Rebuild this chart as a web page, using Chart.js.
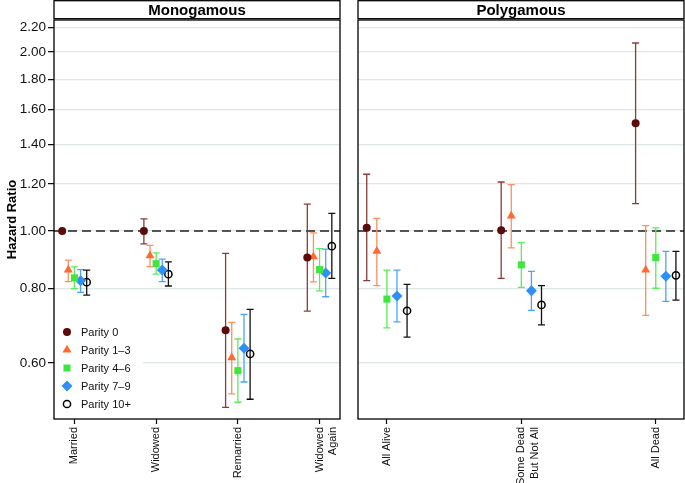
<!DOCTYPE html>
<html>
<head>
<meta charset="utf-8">
<script src="https://cdn.jsdelivr.net/npm/chart.js@4.4.1/dist/chart.umd.min.js"></script>
<style>
    body { margin: 0; background: #fff; }
    #wrap { position: relative; width: 685px; height: 483px; }
    canvas { position: absolute; top: 0; }
    #mono { left: 0; }
    #poly { left: 345px; }
</style>
</head>
<body>
<div id="wrap">
    <canvas id="mono" width="345" height="483"></canvas>
    <canvas id="poly" width="340" height="483"></canvas>
</div>
<script>
// categorias y series
const monoCats = ['Married', 'Widowed', 'Remarried', ['Widowed', 'Again']];
const polyCats = ['All Alive', ['Some Dead', 'But Not All'], 'All Dead'];
const seriesNames = ['Parity 0', 'Parity 1\u20133', 'Parity 4\u20136', 'Parity 7\u20139', 'Parity 10+'];
const yTickValues = [0.6, 0.8, 1.0, 1.2, 1.4, 1.6, 1.8, 2.0, 2.2];

// Monogamous: hazard ratio, limite inferior y superior (una fila por serie)
const monoHR = [
    [1.00, 1.00, 0.681, 0.902],
    [0.860, 0.909, 0.612, 0.905],
    [0.834, 0.881, 0.582, 0.861],
    [0.825, 0.860, 0.635, 0.850],
    [0.820, 0.846, 0.621, 0.943]
];
const monoLow = [
    [null, 0.951, 0.505, 0.733],
    [0.822, 0.871, 0.532, 0.821],
    [0.800, 0.846, 0.515, 0.793],
    [0.788, 0.822, 0.557, 0.775],
    [0.780, 0.808, 0.521, 0.832]
];
const monoHigh = [
    [null, 1.048, 0.917, 1.110],
    [0.893, 0.946, 0.702, 0.993],
    [0.870, 0.919, 0.658, 0.934],
    [0.861, 0.897, 0.724, 0.932],
    [0.859, 0.887, 0.738, 1.071]
];

// Polygamous
const polyHR = [
    [1.013, 1.003, 1.518],
    [0.925, 1.060, 0.860],
    [0.768, 0.877, 0.902],
    [0.777, 0.793, 0.839],
    [0.734, 0.751, 0.842]
];
const polyLow = [
    [0.825, 0.832, 1.112],
    [0.809, 0.937, 0.721],
    [0.687, 0.804, 0.801],
    [0.703, 0.735, 0.761],
    [0.663, 0.695, 0.765]
];
const polyHigh = [
    [1.246, 1.209, 2.072],
    [1.050, 1.197, 1.021],
    [0.859, 0.956, 1.012],
    [0.859, 0.855, 0.924],
    [0.813, 0.809, 0.924]
];

// estilos de cada serie
const dodge = [-0.15, -0.075, 0, 0.075, 0.15];
const markerStyle = ['circle', 'triangle', 'rect', 'rectRot', 'circle'];
const markerSize = [4, 5.2, 5, 5.5, 3.6];
const markerFill = ['#5c0a0a', '#ff6a33', '#3ee63e', '#2f8ff5', 'rgba(0,0,0,0)'];
const markerLine = ['#5c0a0a', '#ff6a33', '#3ee63e', '#2f8ff5', '#000'];
const markerBorder = [0, 0, 0, 0, 1.5];
const barColor = ['#8c3a3a', '#ff8f5e', '#5aee55', '#4aa3ff', '#111'];

Chart.defaults.font.family = '"Liberation Sans", Arial, Helvetica, sans-serif';
Chart.defaults.color = '#000';

function buildSets(hr, low, high) {
    return seriesNames.map((name, s) => ({
        label: name,
        data: hr[s].map((v, i) => ({ x: i + 1 + dodge[s], y: v })),
        errLow: low[s],
        errHigh: high[s],
        barColor: barColor[s],
        pointStyle: markerStyle[s],
        pointRadius: markerSize[s],
        backgroundColor: markerFill[s],
        borderColor: markerLine[s],
        borderWidth: markerBorder[s],
        showLine: false
    }));
}

// dibuja linea de referencia, barras de error, leyenda y recuadro del panel
const panelPlugin = {
    id: 'panel',
    beforeDatasetsDraw(chart) {
        const { ctx, chartArea: a, scales } = chart;
        const opts = chart.options.plugins.panel;
        ctx.save();
        // linea discontinua en 1.00
        const y1 = scales.y.getPixelForValue(1);
        ctx.strokeStyle = '#222';
        ctx.lineWidth = 1.3;
        ctx.setLineDash([9, 5]);
        ctx.beginPath();
        ctx.moveTo(a.left, y1);
        ctx.lineTo(a.right, y1);
        ctx.stroke();
        ctx.setLineDash([]);

        // leyenda
        if (opts.legend) {
            ctx.fillStyle = '#fff';
            ctx.fillRect(a.left + 1, a.bottom - 97, 88, 95);
            seriesNames.forEach((name, s) => {
                const ly = a.bottom - 87 + s * 18;
                ctx.fillStyle = markerFill[s];
                ctx.strokeStyle = markerLine[s];
                ctx.lineWidth = markerBorder[s];
                Chart.helpers.drawPoint(ctx, {
                    pointStyle: markerStyle[s], radius: markerSize[s],
                    rotation: 0, borderWidth: markerBorder[s]
                }, a.left + 13, ly);
                ctx.fillStyle = '#111';
                ctx.font = '11px "Liberation Sans", Arial, sans-serif';
                ctx.textBaseline = 'middle';
                ctx.textAlign = 'left';
                ctx.fillText(name, a.left + 27, ly + 0.5);
            });
        }

        // barras de error
        chart.data.datasets.forEach(ds => {
            ctx.strokeStyle = ds.barColor;
            ctx.lineWidth = 1.3;
            ds.data.forEach((p, j) => {
                if (ds.errLow[j] == null) return;
                const x = scales.x.getPixelForValue(p.x);
                const yl = scales.y.getPixelForValue(ds.errLow[j]);
                const yh = scales.y.getPixelForValue(ds.errHigh[j]);
                ctx.beginPath();
                ctx.moveTo(x, yl); ctx.lineTo(x, yh);
                ctx.moveTo(x - 3.5, yl); ctx.lineTo(x + 3.5, yl);
                ctx.moveTo(x - 3.5, yh); ctx.lineTo(x + 3.5, yh);
                ctx.stroke();
            });
        });
        ctx.restore();
    },
    afterDraw(chart) {
        const { ctx, chartArea: a } = chart;
        const opts = chart.options.plugins.panel;
        ctx.save();
        ctx.strokeStyle = '#000';
        ctx.lineWidth = 1.3;
        ctx.strokeRect(a.left, a.top, a.right - a.left, a.bottom - a.top);
        // cabecera
        ctx.fillStyle = '#fff';
        ctx.fillRect(a.left, 0.7, a.right - a.left, 18);
        ctx.strokeRect(a.left, 0.7, a.right - a.left, 18);
        ctx.fillStyle = '#000';
        ctx.font = 'bold 15px "Liberation Sans", Arial, sans-serif';
        ctx.textAlign = 'center';
        ctx.textBaseline = 'middle';
        ctx.fillText(opts.title, (a.left + a.right) / 2, 10.5);
        ctx.restore();
    }
};

function makeChart(id, cats, hr, low, high, xmin, xmax, isLeft) {
    return new Chart(document.getElementById(id), {
        type: 'scatter',
        data: { datasets: buildSets(hr, low, high) },
        plugins: [panelPlugin],
        options: {
            responsive: false,
            animation: false,
            events: [],
            layout: {
                autoPadding: false,
                padding: { top: 20, right: isLeft ? 5 : 1, left: isLeft ? 0 : 13, bottom: 0 }
            },
            plugins: {
                legend: { display: false },
                tooltip: { enabled: false },
                panel: { title: isLeft ? 'Monogamous' : 'Polygamous', legend: isLeft }
            },
            scales: {
                x: {
                    type: 'linear',
                    min: xmin,
                    max: xmax,
                    afterBuildTicks: s => { s.ticks = cats.map((c, i) => ({ value: i + 1 })); },
                    afterFit: s => { s.height = 64; s.paddingLeft = 0; s.paddingRight = 0; },
                    ticks: {
                        callback: (v, i) => cats[i],
                        autoSkip: false,
                        minRotation: 90,
                        maxRotation: 90,
                        padding: 3,
                        font: { size: 11 },
                        color: '#111'
                    },
                    grid: { drawOnChartArea: false, tickLength: 5, tickColor: '#000', tickWidth: 1.2 },
                    border: { display: false }
                },
                y: {
                    type: 'logarithmic',
                    min: 0.4826,
                    max: 2.265,
                    afterBuildTicks: s => { s.ticks = yTickValues.map(v => ({ value: v })); },
                    afterFit: s => { s.width = isLeft ? 54 : 0; s.paddingTop = 0; s.paddingBottom = 0; },
                    ticks: {
                        display: isLeft,
                        callback: v => Number(v).toFixed(2),
                        autoSkip: false,
                        padding: 2,
                        font: { size: 13.5 },
                        color: '#111'
                    },
                    grid: {
                        color: '#dfe8e8',
                        lineWidth: 1.3,
                        drawTicks: isLeft,
                        tickLength: 6,
                        tickColor: '#000',
                        tickWidth: 1.2
                    },
                    border: { display: false },
                    title: {
                        display: isLeft,
                        text: 'Hazard Ratio',
                        font: { size: 13, weight: 'bold' },
                        padding: { top: 5, bottom: 2 }
                    }
                }
            }
        }
    });
}

makeChart('mono', monoCats, monoHR, monoLow, monoHigh, 0.75, 4.25, true);
makeChart('poly', polyCats, polyHR, polyLow, polyHigh, 0.785, 3.21, false);
</script>
</body>
</html>
